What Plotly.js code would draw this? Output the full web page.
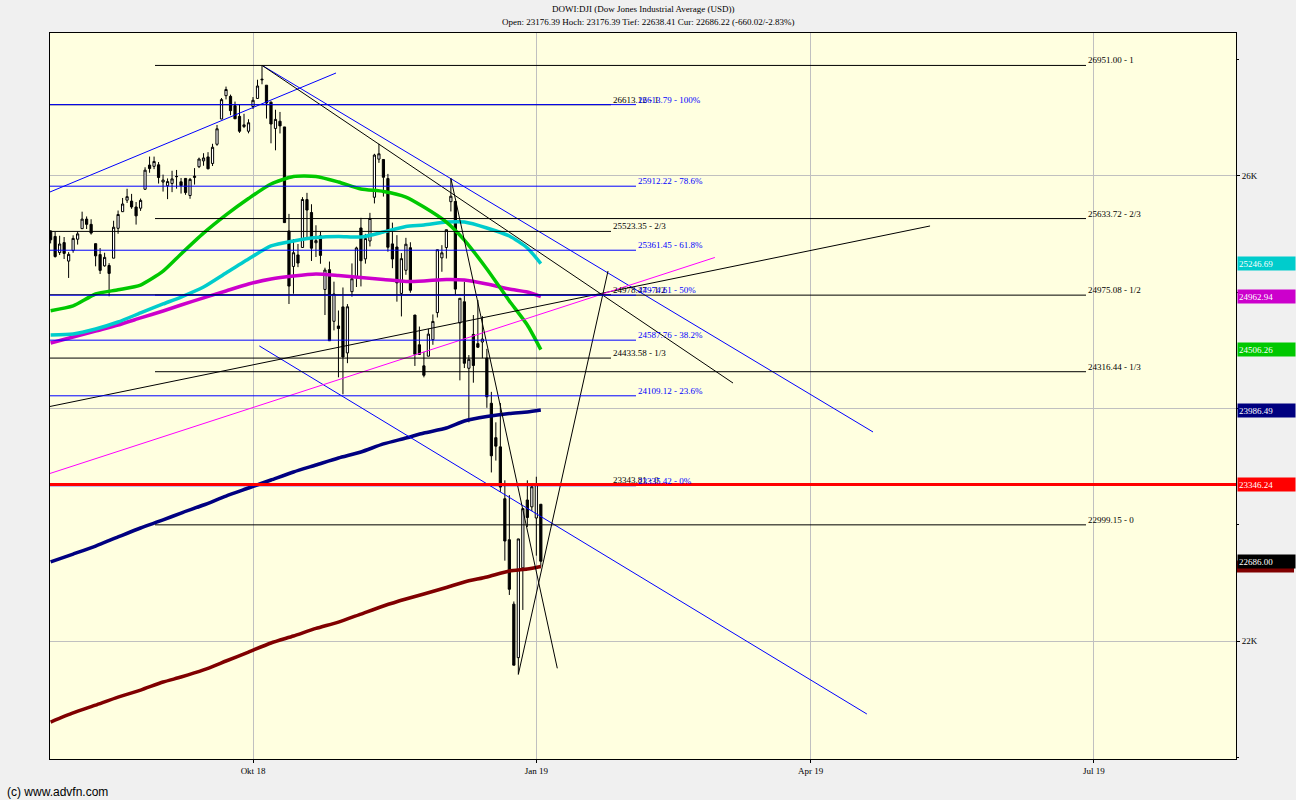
<!DOCTYPE html>
<html><head><meta charset="utf-8">
<script src="https://cdn.plot.ly/plotly-3.0.1.min.js"></script>
<style>html,body{margin:0;padding:0;background:#F0F0F0;}#chart{width:1296px;height:800px;}</style>
</head><body><div id="chart"></div>
<script>
// ---------- daily candles (DOWI:DJI) ----------
const dates = [
'2018-07-27','2018-07-30','2018-07-31',
'2018-08-01','2018-08-02','2018-08-03','2018-08-06','2018-08-07','2018-08-08','2018-08-09','2018-08-10','2018-08-13','2018-08-14','2018-08-15','2018-08-16','2018-08-17','2018-08-20','2018-08-21','2018-08-22','2018-08-23','2018-08-24','2018-08-27','2018-08-28','2018-08-29','2018-08-30','2018-08-31',
'2018-09-04','2018-09-05','2018-09-06','2018-09-07','2018-09-10','2018-09-11','2018-09-12','2018-09-13','2018-09-14','2018-09-17','2018-09-18','2018-09-19','2018-09-20','2018-09-21','2018-09-24','2018-09-25','2018-09-26','2018-09-27','2018-09-28',
'2018-10-01','2018-10-02','2018-10-03','2018-10-04','2018-10-05','2018-10-08','2018-10-09','2018-10-10','2018-10-11','2018-10-12','2018-10-15','2018-10-16','2018-10-17','2018-10-18','2018-10-19','2018-10-22','2018-10-23','2018-10-24','2018-10-25','2018-10-26','2018-10-29','2018-10-30','2018-10-31',
'2018-11-01','2018-11-02','2018-11-05','2018-11-06','2018-11-07','2018-11-08','2018-11-09','2018-11-12','2018-11-13','2018-11-14','2018-11-15','2018-11-16','2018-11-19','2018-11-20','2018-11-21','2018-11-23','2018-11-26','2018-11-27','2018-11-28','2018-11-29','2018-11-30',
'2018-12-03','2018-12-04','2018-12-06','2018-12-07','2018-12-10','2018-12-11','2018-12-12','2018-12-13','2018-12-14','2018-12-17','2018-12-18','2018-12-19','2018-12-20','2018-12-21','2018-12-24','2018-12-26','2018-12-27','2018-12-28','2018-12-31',
'2019-01-02','2019-01-03'];
const open = [
25527,25480,25341,
25427,25268,25359,25456,25547,25629,25584,25418,25324,25227,25230,25293,25550,25693,25792,25784,25733,25723,25886,26094,26083,26096,25948,
25916,25936,25994,25950,25979,25832,25987,26080,26130,26164,26108,26273,26490,26691,26685,26605,26513,26425,26385,
26598,26667,26833,26781,26635,26409,26471,26422,25527,25222,25321,25385,25797,25686,25426,25486,25024,25194,24750,24710,24874,24478,25005,
25129,25553,25287,25441,25817,26145,26142,25978,25416,25389,24990,25189,25383,24804,24548,24367,24450,24592,24825,25296,25385,
25779,25781,24736,24918,24346,24637,24558,24572,24434,24045,23749,23670,23224,22871,22317,21857,22629,23213,23154,
23058,23176.39];
const high = [
25532,25520,25486,
25475,25345,25490,25524,25693,25652,25628,25418,25380,25340,25250,25615,25703,25811,25890,25846,25776,25806,26075,26167,26167,26120,26012,
25979,26045,26052,25983,25982,25983,26068,26158,26196,26205,26277,26439,26671,26769,26700,26640,26614,26535,26488,
26679,26828,26951.81,26781,26641,26570,26551,26422,25674,25457,25415,25818,25855,25757,25576,25521,25211,25264,25091,24843,25041,24898,25248,
25392,25640,25502,25683,26191,26277,26142,26018,25599,25491,25337,25468,25430,24804,24705,24488,24685,24809,25366,25405,25538,
25980,25783,24948,25090,24460,24804,24933,24795,24513,24143,23881,24047,23382,23255,22340,22879,23139,23382,23333,
23413,23176.39];
const low = [
25420,25298,25320,
25286,25123,25340,25410,25547,25544,25496,25223,25157,25220,24965,25293,25503,25690,25768,25718,25582,25700,25880,26028,26059,25935,25866,
25801,25861,25891,25849,25838,25804,25926,26068,26088,26057,26086,26260,26489,26659,26523,26492,26371,26412,26367,
26576,26667,26789,26494,26281,26221,26366,25598,24899,24987,25216,25385,25461,25269,25303,25245,24804,24582,24672,24268,24122,24390,24962,
25045,25050,25246,25394,25764,26113,25823,25349,25207,24919,24792,25150,24996,24366,24462,24268,24450,24548,24783,25176,25290,
25695,24979,24242,24348,23881,24222,24521,24433,24006,23450,23552,23282,22691,22396,21792,21712.53,22267,22981,23118,
22734,22638.41];
const close = [
25451,25307,25415,
25334,25326,25463,25502,25629,25584,25509,25313,25188,25300,25162,25559,25669,25759,25822,25734,25657,25790,26050,26064,26125,25987,25965,
25952,25975,25996,25917,25857,25971,25999,26146,26155,26062,26247,26406,26657,26744,26562,26492,26385,26440,26458,
26651,26774,26828,26627,26447,26487,26431,25599,25053,25340,25251,25798,25707,25379,25444,25317,25191,24583,24985,24688,24443,24875,25116,
25381,25271,25462,25635,26180,26191,25989,25387,25286,25081,25289,25413,25017,24466,24465,24286,24640,24749,25366,25339,25538,
25826,25027,24948,24389,24423,24370,24527,24597,24101,23593,23676,23324,22860,22445,21792,22878,23139,23062,23327,
23346.24,22686.22];

// ---------- moving averages ----------
const maDates = ['2018-07-27','2018-08-03','2018-08-10','2018-08-17','2018-08-24','2018-08-31','2018-09-07','2018-09-14','2018-09-21','2018-09-28','2018-10-05','2018-10-12','2018-10-19','2018-10-26','2018-11-02','2018-11-09','2018-11-16','2018-11-23','2018-11-30','2018-12-07','2018-12-14','2018-12-21','2018-12-28','2019-01-03'];
const maGreen   = [24841,24882,24985,25021,25062,25181,25329,25508,25665,25806,25931,25996,25996,25948,25888,25867,25819,25733,25604,25449,25200,24925,24718,24506.26];
const maCyan    = [24632,24641,24684,24744,24822,24899,24959,25045,25166,25286,25398,25441,25471,25480,25475,25518,25566,25578,25604,25604,25553,25484,25381,25246.69];
const maMagenta = [24563,24615,24667,24718,24779,24839,24890,24951,25011,25071,25114,25140,25157,25144,25127,25110,25092,25097,25110,25105,25071,25028,25002,24962.94];
const maNavy    = [22680,22748,22817,22895,22972,23041,23101,23170,23247,23316,23385,23454,23514,23574,23626,23695,23746,23789,23832,23892,23931,23957,23970,23986.49];
const maDarkRed = [21303,21381,21449,21518,21578,21647,21690,21751,21828,21905,21983,22043,22108,22163,22232,22301,22361,22404,22460,22508,22551,22602,22619,22641];
const lastLabels = {cyan:'25246.69', magenta:'24962.94', green:'24506.26', navy:'23986.49', red:'23346.24', black:'22686.00'};

// ---------- drawn trend lines ----------
const risingChannelX = ['2018-07-20','2018-10-25 11:00'];        const risingChannelY = [25752, 26886];
const upperChannelX  = ['2018-10-03','2019-04-18 20:50'];        const upperChannelY  = [26951.81, 23798];
const peakTrendX     = ['2018-10-03','2019-03-06 17:45'];        const peakTrendY     = [26951.81, 24219];
const lowerChannelX  = ['2018-10-02 09:36','2019-04-17 12:00'];  const lowerChannelY  = [24538, 21372];
const longTrendX     = ['2018-07-20','2019-05-08 13:12'];        const longTrendY     = [23963, 25570];
const pinkTrendX     = ['2018-07-20','2019-02-28 16:48'];        const pinkTrendY     = [23355, 25299];
const fallFanX       = ['2018-12-03','2019-01-08 16:00'];        const fallFanY       = [25980, 21765];
const riseFanX       = ['2018-12-26','2019-01-24 22:30'];        const riseFanY       = [21712.53, 25183];

// ---------- horizontal levels ----------
const ratioLevelsA = [26951.00, 25633.72, 24975.08, 24316.44, 22999.15];
const ratioLevelsB = [26613.12, 25523.35, 24978.47, 24433.58, 23343.81];
const ratioNames   = ['1','2/3','1/2','1/3','0'];
const fibLevels    = [26613.79, 25912.22, 25361.45, 24974.61, 24587.76, 24109.12, 23335.42];
const fibNames     = ['100%','78.6%','61.8%','50%','38.2%','23.6%','0%'];
const lastClose    = 23346.24;

// ---------- axis ticks ----------
const xTickVals = ['2018-10-01','2019-01-02','2019-04-01','2019-07-01'];
const xTickText = ['Okt 18','Jan 19','Apr 19','Jul 19'];
const yTickVals = [22000, 24000, 26000];
const yTickText = ['22K','','26K'];
const holidays  = ['2018-09-03','2018-11-22','2018-12-05','2018-12-25','2019-01-01','2019-01-21','2019-02-18','2019-04-19','2019-05-27','2019-07-04'];

const titleLine1 = 'DOWI:DJI (Dow Jones Industrial Average (USD))';
const titleLine2 = 'Open: 23176.39 Hoch: 23176.39 Tief: 22638.41 Cur: 22686.22 (-660.02/-2.83%)';

// ---------- build ----------
const SERIF = 'Liberation Serif, Times New Roman, serif';
const traces = [];
function ma(y, color){ return {type:'scatter', mode:'lines', x:maDates, y:y, line:{color:color, width:3.5, shape:'spline', smoothing:0.6}, hoverinfo:'skip'}; }
traces.push(ma(maDarkRed,'#800000'));
traces.push(ma(maNavy,'#000080'));
traces.push(ma(maMagenta,'#CC00CC'));
traces.push(ma(maCyan,'#00CCCC'));
traces.push(ma(maGreen,'#00C800'));
traces.push({type:'candlestick', x:dates, open:open, high:high, low:low, close:close,
  increasing:{line:{color:'#000000', width:1}, fillcolor:'#FFFFFF'},
  decreasing:{line:{color:'#000000', width:1}, fillcolor:'#000000'},
  whiskerwidth:0});
function tl(x,y,color){ return {type:'scatter', mode:'lines', x:x, y:y, line:{color:color, width:1}, hoverinfo:'skip'}; }
traces.push(tl(risingChannelX, risingChannelY, '#0000FF'));
traces.push(tl(upperChannelX, upperChannelY, '#0000FF'));
traces.push(tl(peakTrendX, peakTrendY, '#000000'));
traces.push(tl(lowerChannelX, lowerChannelY, '#0000FF'));
traces.push(tl(longTrendX, longTrendY, '#000000'));
traces.push(tl(pinkTrendX, pinkTrendY, '#FF00FF'));
traces.push(tl(fallFanX, fallFanY, '#000000'));
traces.push(tl(riseFanX, riseFanY, '#000000'));

const px = p => (p - 50) / 1186;   // plot-area pixel -> paper x (layout position only)
const py = p => (759 - p) / 726;   // page pixel -> paper y (layout position only)
const shapes = [], annotations = [];
function hline(x0, x1, y, color, w){ shapes.push({type:'line', xref:'paper', yref:'y', x0:x0, x1:x1, y0:y, y1:y, line:{color:color, width:w}, layer:'above'}); }
function lvlLabel(x, y, text, color){ annotations.push({xref:'paper', yref:'y', x:x, y:y, xanchor:'left', yanchor:'bottom', yshift:-2, showarrow:false, text:text, font:{family:SERIF, size:9, color:color}}); }

ratioLevelsA.forEach(v => hline(px(155), px(1086), v, '#000000', 1));
ratioLevelsB.forEach(v => hline(0, px(611), v, '#000000', 1));
fibLevels.forEach(v => hline(0, px(636), v, '#0000FF', 1));
hline(0, 1, lastClose, '#FF0000', 3);

ratioLevelsA.forEach((v,i)=> lvlLabel(px(1086), v, v.toFixed(2)+' - '+ratioNames[i], '#000000'));
ratioLevelsB.forEach((v,i)=> lvlLabel(px(611), v, v.toFixed(2)+' - '+ratioNames[i], '#000000'));
fibLevels.forEach((v,i)=> lvlLabel(px(636), v, v.toFixed(2)+' - '+fibNames[i], '#0000FF'));

function box(y, text, bg){ annotations.push({xref:'paper', yref:'y', x:1, y:y, xanchor:'left', yanchor:'middle', xshift:1, showarrow:false, text:text, align:'left', width:55, height:11, borderpad:1, bgcolor:bg, font:{family:SERIF, size:9, color:'#FFFFFF'}}); }
box(maCyan[maCyan.length-1], lastLabels.cyan, '#00CCCC');
box(maMagenta[maMagenta.length-1], lastLabels.magenta, '#CC00CC');
box(maGreen[maGreen.length-1], lastLabels.green, '#00C800');
box(maNavy[maNavy.length-1], lastLabels.navy, '#000080');
box(lastClose, lastLabels.red, '#FF0000');
// dark-red MA marker, hidden almost entirely behind the black last-price box
shapes.push({type:'rect', xref:'paper', yref:'y', x0:1+1/1186, x1:1+58/1186, y0:maDarkRed[maDarkRed.length-1]-52, y1:maDarkRed[maDarkRed.length-1]+52, fillcolor:'#800000', line:{width:0}, layer:'above'});
box(close[close.length-1], lastLabels.black, '#000000');

annotations.push({xref:'paper', yref:'paper', x:0.5, y:py(9), xanchor:'center', yanchor:'middle', showarrow:false, text:titleLine1, font:{family:SERIF, size:9, color:'#000000'}});
annotations.push({xref:'paper', yref:'paper', x:0.5 + 5/1186, y:py(22), xanchor:'center', yanchor:'middle', showarrow:false, text:titleLine2, font:{family:SERIF, size:9, color:'#000000'}});
annotations.push({xref:'paper', yref:'paper', x:px(5), y:py(792), xanchor:'left', yanchor:'middle', showarrow:false, text:'(c) www.advfn.com', font:{family:'Liberation Sans, Arial, sans-serif', size:12, color:'#000000'}});

const layout = {
  width:1296, height:800,
  paper_bgcolor:'#F0F0F0', plot_bgcolor:'#FFFFE0',
  margin:{l:50, r:60, t:33, b:41, autoexpand:false},
  showlegend:false,
  xaxis:{type:'date', range:['2018-07-26 20:38','2019-08-14 13:55'],
    rangebreaks:[{bounds:['sat','mon']},{values:holidays}],
    rangeslider:{visible:false},
    tickmode:'array', tickvals:xTickVals, ticktext:xTickText,
    ticks:'outside', ticklen:3, tickcolor:'#000', tickfont:{family:SERIF, size:9, color:'#000'},
    showgrid:true, gridcolor:'#C0C0C0', gridwidth:1, zeroline:false,
    showline:true, linecolor:'#000000', linewidth:1, mirror:true, fixedrange:true},
  yaxis:{side:'right', range:[20985, 27230],
    tickmode:'array', tickvals:yTickVals, ticktext:yTickText,
    ticks:'outside', ticklen:3, tickcolor:'#000', tickfont:{family:SERIF, size:9, color:'#000'},
    minor:{tickmode:'linear', tick0:0, dtick:1000, ticks:'outside', ticklen:2, tickcolor:'#000', showgrid:false},
    showgrid:true, gridcolor:'#C0C0C0', gridwidth:1, zeroline:false,
    showline:true, linecolor:'#000000', linewidth:1, mirror:true, fixedrange:true},
  shapes:shapes, annotations:annotations
};
Plotly.newPlot('chart', traces, layout, {staticPlot:true, displayModeBar:false});
</script></body></html>
